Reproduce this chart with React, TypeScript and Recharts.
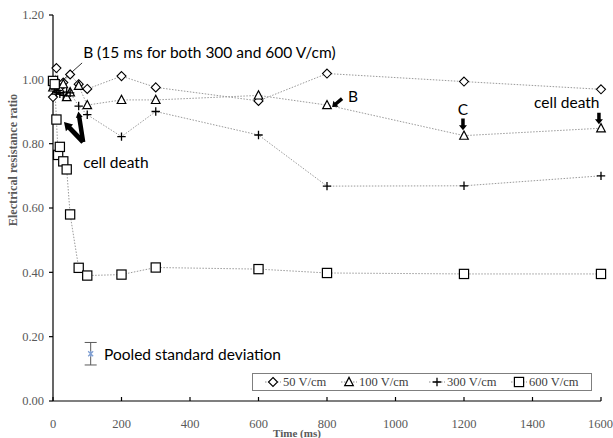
import {
  ComposedChart,
  ErrorBar,
  Legend,
  Line,
  ReferenceDot,
  ReferenceLine,
  Scatter,
  XAxis,
  YAxis
} from 'recharts'

// sampling times (ms) and resistance ratios per field strength
const times50 = [0, 10, 20, 30, 50, 75, 100, 200, 300, 600, 800, 1200, 1600]
const ratio50 = [0.945, 1.035, 0.975, 0.99, 1.015, 0.985, 0.97, 1.01, 0.975, 0.933, 1.018, 0.993, 0.969]

const times100 = [0, 10, 20, 30, 40, 50, 75, 100, 200, 300, 600, 800, 1200, 1600]
const ratio100 = [0.975, 0.965, 0.97, 0.985, 0.945, 0.96, 0.98, 0.92, 0.936, 0.936, 0.95, 0.92, 0.825, 0.848]

const times300 = [0, 5, 10, 15, 20, 30, 40, 50, 75, 100, 200, 300, 600, 800, 1200, 1600]
const ratio300 = [0.99, 0.97, 0.96, 0.965, 0.955, 0.95, 0.96, 0.958, 0.917, 0.89, 0.822, 0.9, 0.827, 0.668, 0.669, 0.7]

const times600 = [0, 5, 10, 15, 20, 30, 40, 50, 75, 100, 200, 300, 600, 800, 1200, 1600]
const ratio600 = [0.995, 0.985, 0.875, 0.765, 0.79, 0.745, 0.72, 0.58, 0.414, 0.39, 0.393, 0.415, 0.41, 0.398, 0.395, 0.395]

const pooledSd = [{ t: 110, v: 0.147, err: 0.035 }]

const xTicks = [0, 200, 400, 600, 800, 1000, 1200, 1400, 1600]
const yTicks = [0, 0.2, 0.4, 0.6, 0.8, 1.0, 1.2]

const toPoints = (times: number[], values: number[]) => times.map((t, i) => ({ t, v: values[i] }))

type MarkerKind = 'diamond' | 'triangle' | 'plus' | 'square'

const series: { name: string; kind: MarkerKind; data: { t: number; v: number }[]; legendX: number }[] = [
  { name: '50 V/cm', kind: 'diamond', data: toPoints(times50, ratio50), legendX: 20 },
  { name: '100 V/cm', kind: 'triangle', data: toPoints(times100, ratio100), legendX: 96 },
  { name: '300 V/cm', kind: 'plus', data: toPoints(times300, ratio300), legendX: 184 },
  { name: '600 V/cm', kind: 'square', data: toPoints(times600, ratio600), legendX: 266 }
]

const serif = '"Liberation Serif", "Times New Roman", serif'
const sans = 'Lato, "Open Sans", sans-serif'
const grey = '#595959'

function Marker({ kind, cx, cy }: { kind: MarkerKind; cx: number; cy: number }) {
  if (kind === 'diamond') {
    return <path d={`M${cx},${cy - 4.5}L${cx + 4.5},${cy}L${cx},${cy + 4.5}L${cx - 4.5},${cy}Z`} fill="#fff" stroke="#000" strokeWidth={1.1} />
  }
  if (kind === 'triangle') {
    return <path d={`M${cx},${cy - 4.6}L${cx + 4.3},${cy + 3.6}L${cx - 4.3},${cy + 3.6}Z`} fill="#fff" stroke="#000" strokeWidth={1.2} />
  }
  if (kind === 'plus') {
    return <path d={`M${cx - 4.2},${cy}H${cx + 4.2}M${cx},${cy - 4.2}V${cy + 4.2}`} stroke="#000" strokeWidth={1.3} />
  }
  return <rect x={cx - 4.6} y={cy - 4.6} width={9.2} height={9.2} fill="#fff" stroke="#000" strokeWidth={1.2} />
}

// block arrow from tail (x1,y1) to tip (x2,y2)
function arrowPath(x1: number, y1: number, x2: number, y2: number, shaft: number, head: number, headLen: number) {
  const len = Math.hypot(x2 - x1, y2 - y1)
  const ux = (x2 - x1) / len
  const uy = (y2 - y1) / len
  const nx = -uy
  const ny = ux
  const bx = x2 - ux * headLen
  const by = y2 - uy * headLen
  const pts = [
    [x1 + (nx * shaft) / 2, y1 + (ny * shaft) / 2],
    [bx + (nx * shaft) / 2, by + (ny * shaft) / 2],
    [bx + (nx * head) / 2, by + (ny * head) / 2],
    [x2, y2],
    [bx - (nx * head) / 2, by - (ny * head) / 2],
    [bx - (nx * shaft) / 2, by - (ny * shaft) / 2],
    [x1 - (nx * shaft) / 2, y1 - (ny * shaft) / 2]
  ]
  return 'M' + pts.map((p) => p.join(',')).join('L') + 'Z'
}

const arrow = (shaft: number, head: number, headLen: number) => (p: any) => (
  <path d={arrowPath(p.x1, p.y1, p.x2, p.y2, shaft, head, headLen)} fill="#000" />
)

const note = (text: string, anchor: 'start' | 'middle') => (p: any) => (
  <text x={p.cx} y={p.cy} textAnchor={anchor} fontFamily={sans} fontSize={15.5} fill="#000">
    {text}
  </text>
)

const notes: { t: number; v: number; text: string; anchor: 'start' | 'middle' }[] = [
  { t: 88, v: 1.066, text: 'B (15 ms for both 300 and 600 V/cm)', anchor: 'start' },
  { t: 88, v: 0.724, text: 'cell death', anchor: 'start' },
  { t: 149, v: 0.127, text: 'Pooled standard deviation', anchor: 'start' },
  { t: 861, v: 0.93, text: 'B', anchor: 'start' },
  { t: 1197, v: 0.889, text: 'C', anchor: 'middle' },
  { t: 1500, v: 0.911, text: 'cell death', anchor: 'middle' }
]

const arrows: { from: [number, number]; to: [number, number]; size: [number, number, number] }[] = [
  { from: [88, 0.805], to: [74, 0.9], size: [4.5, 7, 6] },
  { from: [88, 0.805], to: [32, 0.867], size: [5, 10, 8] },
  { from: [844, 0.94], to: [815, 0.914], size: [3.5, 8, 5] },
  { from: [1197, 0.878], to: [1197, 0.842], size: [3.5, 8, 5] },
  { from: [1594, 0.896], to: [1594, 0.86], size: [3.5, 8, 5] }
]

function LegendBox() {
  return (
    <div
      style={{
        position: 'relative',
        width: 340,
        height: 18,
        boxSizing: 'border-box',
        border: '1px solid #7f7f7f',
        background: '#fff',
        fontFamily: serif,
        fontSize: 12.5,
        color: '#404040'
      }}
    >
      {series.map((s) => (
        <div key={s.name} style={{ position: 'absolute', left: s.legendX - 9, top: 0, height: 16, display: 'flex', alignItems: 'center' }}>
          <svg width={18} height={12} style={{ display: 'block' }}>
            <line x1={1} y1={6} x2={17} y2={6} stroke="#8c8c8c" strokeDasharray="1.5 1.5" />
            <Marker kind={s.kind} cx={9} cy={6} />
          </svg>
          <span style={{ marginLeft: 1, whiteSpace: 'nowrap' }}>{s.name}</span>
        </div>
      ))}
    </div>
  )
}

export default function App() {
  return (
    <div style={{ position: 'absolute', left: 0, top: 0, background: '#fff' }}>
      <ComposedChart width={613} height={438} margin={{ top: 15, right: 12, bottom: 0, left: 0 }}>
        <XAxis
          type="number"
          dataKey="t"
          domain={[0, 1600]}
          ticks={xTicks}
          height={37}
          tickSize={-4}
          tickMargin={22}
          stroke="#000"
          strokeWidth={1.2}
          tick={{ fill: grey, fontFamily: serif, fontSize: 12.5 }}
          label={() => (
            <text x={297} y={437} textAnchor="middle" fontFamily={serif} fontWeight="bold" fontSize={11} fill={grey}>
              Time (ms)
            </text>
          )}
        />
        <YAxis
          type="number"
          dataKey="v"
          domain={[0, 1.2]}
          ticks={yTicks}
          width={53}
          tickSize={4}
          tickMargin={5}
          stroke="#000"
          strokeWidth={1.2}
          tickFormatter={(v: number) => v.toFixed(2)}
          tick={{ fill: grey, fontFamily: serif, fontSize: 12.5 }}
          label={() => (
            <text
              x={17}
              y={160}
              transform="rotate(-90 17 160)"
              textAnchor="middle"
              fontFamily={serif}
              fontWeight="bold"
              fontSize={12.2}
              fill={grey}
            >
              Electrical resistance ratio
            </text>
          )}
        />
        {series.map((s) => (
          <Line
            key={s.name}
            data={s.data}
            dataKey="v"
            name={s.name}
            type="linear"
            stroke="#9a9a9a"
            strokeWidth={1}
            strokeDasharray="1.5 1.5"
            isAnimationActive={false}
            dot={(p: any) => <Marker key={`${s.name}-${p.index}`} kind={s.kind} cx={p.cx} cy={p.cy} />}
            activeDot={false}
          />
        ))}
        <Scatter
          data={pooledSd}
          dataKey="v"
          isAnimationActive={false}
          shape={(p: any) => (
            <path
              d={`M${p.cx - 2.5},${p.cy - 2.5}L${p.cx + 2.5},${p.cy + 2.5}M${p.cx - 2.5},${p.cy + 2.5}L${p.cx + 2.5},${p.cy - 2.5}M${p.cx},${p.cy - 3}V${p.cy + 3}`}
              stroke="#7f9fd3"
              strokeWidth={1.2}
            />
          )}
        >
          <ErrorBar dataKey="err" direction="y" width={6} stroke={grey} strokeWidth={1} isAnimationActive={false} />
        </Scatter>
        <ReferenceLine
          segment={[{ x: 85, y: 1.051 }, { x: 23, y: 0.992 }]}
          stroke="#000"
          strokeWidth={0.8}
          ifOverflow="visible"
        />
        {arrows.map((a, i) => (
          <ReferenceLine
            key={`arrow-${i}`}
            segment={[{ x: a.from[0], y: a.from[1] }, { x: a.to[0], y: a.to[1] }]}
            ifOverflow="visible"
            shape={arrow(a.size[0], a.size[1], a.size[2])}
          />
        ))}
        {notes.map((n) => (
          <ReferenceDot key={n.text + n.t} x={n.t} y={n.v} r={0} ifOverflow="visible" shape={note(n.text, n.anchor)} />
        ))}
        <Legend
          layout="horizontal"
          verticalAlign="middle"
          align="center"
          content={() => <LegendBox />}
          wrapperStyle={{ position: 'absolute', left: 252, top: 373, width: 340, height: 18 }}
        />
      </ComposedChart>
    </div>
  )
}
